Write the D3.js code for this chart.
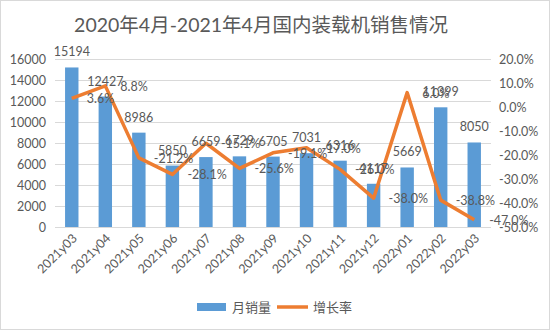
<!DOCTYPE html>
<html>
<head>
<meta charset="utf-8">
<script src="https://cdn.jsdelivr.net/npm/d3@7"></script>
<style>
  body { margin: 0; background: #fff; }
  text { font-family: Lato, "Noto Sans CJK SC", sans-serif; fill: #595959; }
</style>
</head>
<body>
<div id="chart-area"></div>
<script>
// data
var months = ['2021y03', '2021y04', '2021y05', '2021y06', '2021y07', '2021y08', '2021y09',
              '2021y10', '2021y11', '2021y12', '2022y01', '2022y02', '2022y03'];
var sales = [15194, 12427, 8986, 5850, 6659, 6729, 6705, 7031, 6316, 4117, 5669, 11399, 8050];
var growth = [3.6, 8.8, -21.2, -28.1, -15.1, -25.6, -19.1, -17.0, -26.0, -38.0, 6.0, -38.8, -47.0];
var leftTicks = [0, 2000, 4000, 6000, 8000, 10000, 12000, 14000, 16000];
var rightTicks = [-50, -40, -30, -20, -10, 0, 10, 20];

var W = 550, H = 330;
var margin = { left: 55, right: 59, top: 59, bottom: 103 };
var width = W - margin.left - margin.right,
    height = H - margin.top - margin.bottom;

var svg = d3.select('#chart-area')
  .append('svg')
    .attr('width', W)
    .attr('height', H);

// chart border
svg.append('rect')
  .attr('x', 0.5).attr('y', 0.5)
  .attr('width', W - 1).attr('height', H - 1)
  .attr('fill', '#fff')
  .attr('stroke', '#d9d9d9');

// title
svg.append('text')
  .attr('x', 261)
  .attr('y', 32)
  .attr('text-anchor', 'middle')
  .attr('font-size', '19.5px')
  .text('2020年4月-2021年4月国内装载机销售情况');

var g = svg.append('g')
  .attr('transform', 'translate(' + margin.left + ',' + margin.top + ')');

var x = d3.scaleBand()
  .domain(months)
  .range([0, width])
  .paddingInner(0.6)
  .paddingOuter(0.3);

var y = d3.scaleLinear()
  .domain([0, 16000])
  .range([height, 0]);

var y2 = d3.scaleLinear()
  .domain([-50, 20])
  .range([height, 0]);

// gridlines
g.append('g')
  .selectAll('line')
  .data(leftTicks)
  .enter().append('line')
    .attr('x1', 0)
    .attr('x2', width)
    .attr('y1', function(d) { return Math.round(y(d)) + 0.5; })
    .attr('y2', function(d) { return Math.round(y(d)) + 0.5; })
    .attr('stroke', '#d9d9d9')
    .attr('stroke-width', 1);

// left axis
var yAxisCall = d3.axisLeft(y)
  .tickValues(leftTicks)
  .tickSize(0)
  .tickPadding(9)
  .tickFormat(function(d) { return d; });
var yAxisGroup = g.append('g').call(yAxisCall);
yAxisGroup.select('.domain').remove();
yAxisGroup.selectAll('text').attr('font-size', '12.5px');

// right axis
var y2AxisCall = d3.axisRight(y2)
  .tickValues(rightTicks)
  .tickSize(0)
  .tickPadding(8)
  .tickFormat(function(d) { return d.toFixed(1) + '%'; });
var y2AxisGroup = g.append('g')
  .attr('transform', 'translate(' + width + ',0)')
  .call(y2AxisCall);
y2AxisGroup.select('.domain').remove();
y2AxisGroup.selectAll('text').attr('font-size', '12.5px');

// bars
g.selectAll('rect.bar')
  .data(sales)
  .enter().append('rect')
    .attr('class', 'bar')
    .attr('x', function(d, i) { return x(months[i]); })
    .attr('width', x.bandwidth())
    .attr('y', function(d) { return y(d); })
    .attr('height', function(d) { return height - y(d); })
    .attr('fill', '#5b9bd5');

// x axis labels
g.append('g')
  .selectAll('text')
  .data(months)
  .enter().append('text')
    .attr('transform', function(d) {
      return 'translate(' + (x(d) + x.bandwidth() / 2 + 6) + ',' + (height + 12) + ') rotate(-45)';
    })
    .attr('text-anchor', 'end')
    .attr('font-size', '12.5px')
    .text(function(d) { return d; });

// growth line
var line = d3.line()
  .x(function(d, i) { return x(months[i]) + x.bandwidth() / 2; })
  .y(function(d) { return y2(d); });

g.append('path')
  .datum(growth)
  .attr('d', line)
  .attr('fill', 'none')
  .attr('stroke', '#ed7d31')
  .attr('stroke-width', 3.5)
  .attr('stroke-linejoin', 'round');

// bar labels
g.selectAll('text.bar-label')
  .data(sales)
  .enter().append('text')
    .attr('class', 'bar-label')
    .attr('x', function(d, i) { return x(months[i]) + x.bandwidth() / 2; })
    .attr('y', function(d) { return y(d) - 11; })
    .attr('text-anchor', 'middle')
    .attr('font-size', '12.5px')
    .text(function(d) { return d; });

// growth labels
g.selectAll('text.line-label')
  .data(growth)
  .enter().append('text')
    .attr('class', 'line-label')
    .attr('x', function(d, i) { return x(months[i]) + x.bandwidth() / 2 + 15; })
    .attr('y', function(d) { return y2(d) + 5; })
    .attr('font-size', '12.5px')
    .text(function(d) { return d.toFixed(1) + '%'; });

// legend
var legend = svg.append('g').attr('transform', 'translate(0,307)');
legend.append('rect')
  .attr('x', 197).attr('y', -4)
  .attr('width', 29).attr('height', 8)
  .attr('fill', '#5b9bd5');
legend.append('text')
  .attr('x', 232).attr('y', 5)
  .attr('font-size', '13px')
  .text('月销量');
legend.append('line')
  .attr('x1', 277).attr('x2', 308)
  .attr('y1', 0).attr('y2', 0)
  .attr('stroke', '#ed7d31')
  .attr('stroke-width', 3.5);
legend.append('text')
  .attr('x', 313).attr('y', 5)
  .attr('font-size', '13px')
  .text('增长率');
</script>
</body>
</html>
